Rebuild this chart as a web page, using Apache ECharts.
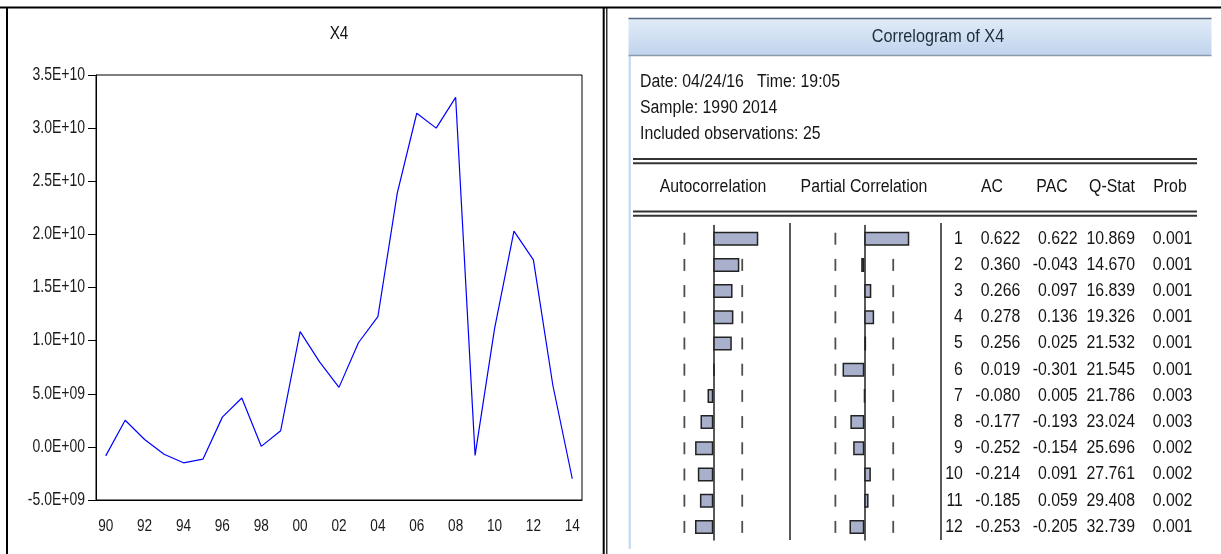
<!DOCTYPE html>
<html>
<head>
<meta charset="utf-8">
<script src="https://cdn.jsdelivr.net/npm/echarts@6/dist/echarts.min.js"></script>
<style>
html,body{margin:0;padding:0;background:#fff;}
#chart{width:1221px;height:554px;}
</style>
</head>
<body>
<div id="chart"></div>
<script>
// ---- Data ----
const years = ['90','91','92','93','94','95','96','97','98','99','00','01','02','03','04','05','06','07','08','09','10','11','12','13','14'];
const x4Values = [-0.85e9, 2.51e9, 0.69e9, -0.69e9, -1.5e9, -1.16e9, 2.8e9, 4.6e9, 0.05e9, 1.52e9,
                  10.85e9, 8.0e9, 5.6e9, 9.8e9, 12.25e9, 23.9e9, 31.4e9, 30.0e9, 32.9e9, -0.8e9,
                  11.1e9, 20.3e9, 17.6e9, 5.8e9, -3.0e9];
const yTickValues = [-5e9, 0, 5e9, 1e10, 1.5e10, 2e10, 2.5e10, 3e10, 3.5e10];
const yTickLabels = ['-5.0E+09','0.0E+00','5.0E+09','1.0E+10','1.5E+10','2.0E+10','2.5E+10','3.0E+10','3.5E+10'];
const xTickLabels = ['90','92','94','96','98','00','02','04','06','08','10','12','14'];
const yMin = -5e9, yMax = 3.5e10, yStep = 5e9;

const lags = ['1','2','3','4','5','6','7','8','9','10','11','12'];
const acValues  = [0.622, 0.360, 0.266, 0.278, 0.256, 0.019, -0.080, -0.177, -0.252, -0.214, -0.185, -0.253];
const pacValues = [0.622, -0.043, 0.097, 0.136, 0.025, -0.301, 0.005, -0.193, -0.154, 0.091, 0.059, -0.205];
const qStat     = [10.869, 14.670, 16.839, 19.326, 21.532, 21.545, 21.786, 23.024, 25.696, 27.761, 29.408, 32.739];
const probValues= [0.001, 0.001, 0.001, 0.001, 0.001, 0.001, 0.003, 0.003, 0.002, 0.002, 0.002, 0.001];
const bandLimit = 0.4;
const tableColumns = ['lag','AC','PAC','Q-Stat','Prob'];
const headerLines = ['Date: 04/24/16   Time: 19:05', 'Sample: 1990 2014', 'Included observations: 25'];

// ---- Helpers ----
const FONT = "'Liberation Sans',Arial,sans-serif";
const NARROW = 0.88;
const tableText = {
  'lag': lags.map(l => l),
  'AC': acValues.map(v => v.toFixed(3)),
  'PAC': pacValues.map(v => v.toFixed(3)),
  'Q-Stat': qStat.map(v => v.toFixed(3)),
  'Prob': probValues.map(v => v.toFixed(3))
};
const bandPoints = [];
lags.forEach(l => { bandPoints.push([-bandLimit, l]); bandPoints.push([bandLimit, l]); });

const chart = echarts.init(document.getElementById('chart'), null, {renderer:'canvas'});

const corrTop = 225.6, corrHeight = 314.4;
const barStyle = {color:'#a8b0cc', borderColor:'#222', borderWidth:1.5};

function narrowText(x, y, text, size, align, scale, fill){
  return {type:'text', x:x, y:y, scaleX:scale, silent:true,
    style:{text:text, font:size+'px '+FONT, fill:fill||'#111',
           align:align, verticalAlign:'middle', textAlign:align, textVerticalAlign:'middle'}};
}

const tableSeries = tableColumns.map(col => ({
  type:'custom', xAxisIndex:3, yAxisIndex:3, clip:false, silent:true,
  data: lags.map(l => [col, l]),
  renderItem: (params, api) => {
    const p = api.coord([api.value(0), api.value(1)]);
    return narrowText(p[0], p[1], tableText[col][params.dataIndex], 18, 'right', NARROW, '#151515');
  }
}));

const option = {
  animation:false,
  backgroundColor:'#fff',
  textStyle:{fontFamily:FONT},
  grid:[
    {left:96, top:75, width:486, height:425, show:true, borderColor:'#000', borderWidth:1, backgroundColor:'transparent'},
    {left:641, top:corrTop, width:144.6, height:corrHeight},
    {left:792, top:corrTop, width:144.6, height:corrHeight},
    {left:934.25, top:corrTop, width:287.5, height:corrHeight}
  ],
  xAxis:[
    {gridIndex:0, type:'category', data:years, boundaryGap:true,
     axisLine:{onZero:false, lineStyle:{color:'#000', width:1}},
     axisTick:{interval:0, length:7, lineStyle:{color:'#000'}},
     axisLabel:{show:false}},
    {gridIndex:1, type:'value', min:-1, max:1, show:false},
    {gridIndex:2, type:'value', min:-1, max:1, show:false},
    {gridIndex:3, type:'category', data:tableColumns, show:false}
  ],
  yAxis:[
    {gridIndex:0, type:'value', min:yMin, max:yMax, interval:yStep,
     axisLine:{show:true, lineStyle:{color:'#000', width:1}},
     axisTick:{show:true, length:8, lineStyle:{color:'#000'}},
     splitLine:{show:false},
     axisLabel:{show:false}},
    {gridIndex:1, type:'category', data:lags, inverse:true,
     axisLine:{show:true, onZero:true, lineStyle:{color:'#222', width:1.5}},
     axisTick:{show:false}, axisLabel:{show:false}, splitLine:{show:false}},
    {gridIndex:2, type:'category', data:lags, inverse:true,
     axisLine:{show:true, onZero:true, lineStyle:{color:'#222', width:1.5}},
     axisTick:{show:false}, axisLabel:{show:false}, splitLine:{show:false}},
    {gridIndex:3, type:'category', data:lags, inverse:true, show:false}
  ],
  series:[
    {type:'line', xAxisIndex:0, yAxisIndex:0, data:x4Values, symbol:'none',
     lineStyle:{color:'#0000ff', width:1.2}},
    // y tick labels of the line chart
    {type:'custom', xAxisIndex:0, yAxisIndex:0, clip:false, silent:true,
     data: yTickValues.map(v => [0, v]),
     renderItem: (params, api) => {
       const p = api.coord([0, api.value(1)]);
       const band = api.size([1, 0])[0];
       return narrowText(p[0] - band / 2 - 11, p[1], yTickLabels[params.dataIndex], 17.5, 'right', 0.8, '#1a1a1a');
     }},
    // x tick labels of the line chart
    {type:'custom', xAxisIndex:0, yAxisIndex:0, clip:false, silent:true,
     data: xTickLabels.map(l => [l, yMin]),
     renderItem: (params, api) => {
       const p = api.coord([api.value(0), yMin]);
       return narrowText(p[0], p[1] + 26, xTickLabels[params.dataIndex], 17, 'center', 0.8, '#1a1a1a');
     }},
    {type:'scatter', xAxisIndex:1, yAxisIndex:1, data:bandPoints, symbol:'rect', symbolSize:[1.8,12],
     itemStyle:{color:'#222'}, z:2, silent:true},
    {type:'bar', xAxisIndex:1, yAxisIndex:1, data:acValues, barWidth:14, itemStyle:barStyle, z:3},
    {type:'scatter', xAxisIndex:2, yAxisIndex:2, data:bandPoints, symbol:'rect', symbolSize:[1.8,12],
     itemStyle:{color:'#222'}, z:2, silent:true},
    {type:'bar', xAxisIndex:2, yAxisIndex:2, data:pacValues, barWidth:14, itemStyle:barStyle, z:3}
  ].concat(tableSeries),
  graphic:[
    // frame lines
    {type:'line', shape:{x1:0, y1:7.5, x2:1221, y2:7.5}, style:{stroke:'#000', lineWidth:2}},
    {type:'line', shape:{x1:7, y1:7, x2:7, y2:554}, style:{stroke:'#000', lineWidth:2}},
    {type:'line', shape:{x1:603.7, y1:7, x2:603.7, y2:554}, style:{stroke:'#000', lineWidth:2}},
    {type:'line', shape:{x1:606.8, y1:7, x2:606.8, y2:554}, style:{stroke:'#000', lineWidth:1.2}},
    // chart title
    narrowText(339, 34, 'X4', 18, 'center', 0.85, '#111'),
    // window frame
    {type:'rect', shape:{x:628.5, y:56, width:2.5, height:493}, style:{fill:'#cbdbf0'}},
    {type:'rect', shape:{x:628.5, y:18.5, width:583, height:37},
     style:{fill:new echarts.graphic.LinearGradient(0,0,0,1,[{offset:0,color:'#e1ebf7'},{offset:1,color:'#c0d4ed'}])}},
    {type:'line', shape:{x1:628.5, y1:18.5, x2:1211.5, y2:18.5}, style:{stroke:'#56697f', lineWidth:1.5}},
    {type:'line', shape:{x1:628.5, y1:55.5, x2:1211.5, y2:55.5}, style:{stroke:'#8d9bad', lineWidth:1.5}},
    narrowText(938, 37, 'Correlogram of X4', 18, 'center', 0.9, '#1e2d3d'),
    // info lines
    narrowText(640, 82, headerLines[0], 18, 'left', NARROW, '#151515'),
    narrowText(640, 108, headerLines[1], 18, 'left', NARROW, '#151515'),
    narrowText(640, 134, headerLines[2], 18, 'left', NARROW, '#151515'),
    // double rules
    {type:'line', shape:{x1:633, y1:159, x2:1197, y2:159}, style:{stroke:'#333', lineWidth:2}},
    {type:'line', shape:{x1:633, y1:163.3, x2:1197, y2:163.3}, style:{stroke:'#333', lineWidth:2}},
    {type:'line', shape:{x1:633, y1:211.5, x2:1197, y2:211.5}, style:{stroke:'#333', lineWidth:2}},
    {type:'line', shape:{x1:633, y1:215.7, x2:1197, y2:215.7}, style:{stroke:'#333', lineWidth:2}},
    // column headers
    narrowText(713, 187, 'Autocorrelation', 18, 'center', NARROW, '#151515'),
    narrowText(864, 187, 'Partial Correlation', 18, 'center', NARROW, '#151515'),
    narrowText(992, 187, 'AC', 18, 'center', NARROW, '#151515'),
    narrowText(1052, 187, 'PAC', 18, 'center', NARROW, '#151515'),
    narrowText(1112, 187, 'Q-Stat', 18, 'center', NARROW, '#151515'),
    narrowText(1170, 187, 'Prob', 18, 'center', NARROW, '#151515'),
    // separators
    {type:'line', shape:{x1:790, y1:223, x2:790, y2:540}, style:{stroke:'#222', lineWidth:1.5}},
    {type:'line', shape:{x1:941, y1:223, x2:941, y2:540}, style:{stroke:'#222', lineWidth:1.5}}
  ]
};
chart.setOption(option);
</script>
</body>
</html>
